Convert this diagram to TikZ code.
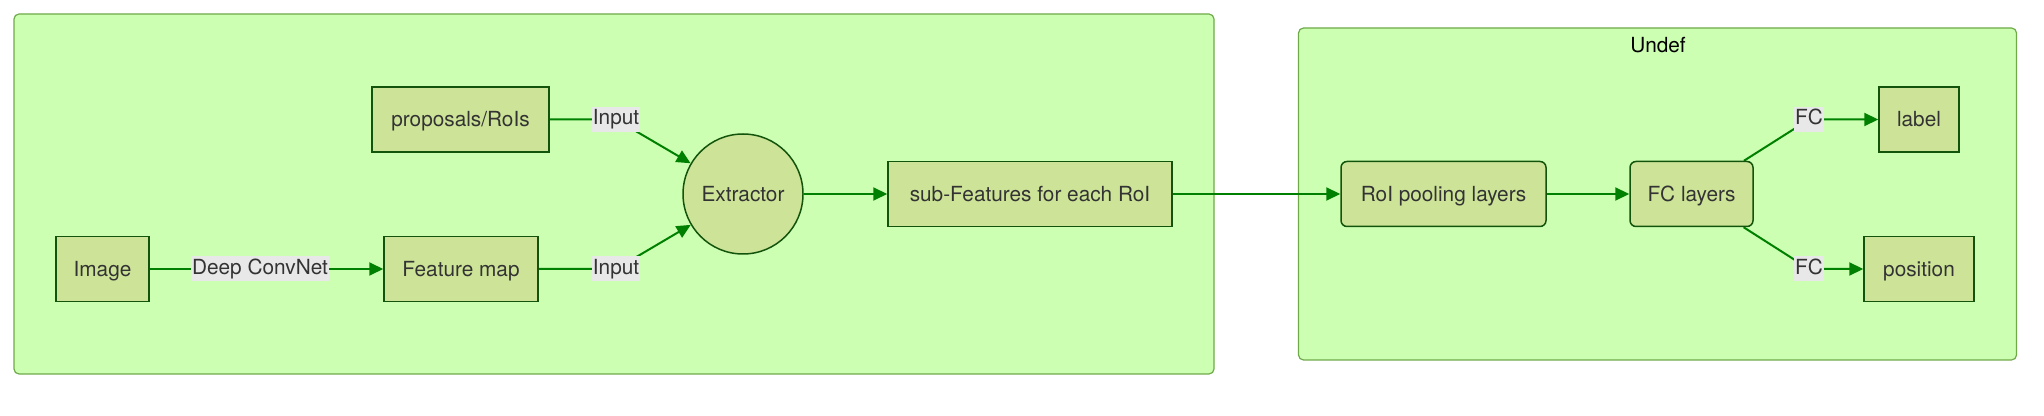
\documentclass[tikz,border=0pt]{standalone}
\usepackage{fontspec}
\setmainfont{TeX Gyre Heros}
\usetikzlibrary{arrows.meta,shapes.geometric}
\definecolor{nodefill}{HTML}{CDE498}
\definecolor{nodeline}{HTML}{13540C}
\definecolor{clfill}{HTML}{CDFFB2}
\definecolor{clline}{HTML}{6EAA49}
\definecolor{edgecol}{HTML}{008000}
\definecolor{lblbg}{HTML}{E8E8E8}
\definecolor{txt}{HTML}{333333}
\pgfdeclarelayer{bg}
\pgfdeclarelayer{edges}
\pgfsetlayers{bg,edges,main}
\begin{document}
\begin{tikzpicture}[x=0.5pt,y=-0.5pt,
  font=\fontsize{10.4}{12}\selectfont,
  every node/.style={text=txt},
  cluster/.style={draw=clline, fill=clfill, line width=0.6pt, rounded corners=2.5pt, inner sep=0pt},
  box/.style={draw=nodeline, fill=nodefill, line width=0.75pt, inner sep=0pt, minimum height=32.5pt, text height=7.5pt, text depth=0pt},
  rbox/.style={box, rounded corners=3pt},
  circ/.style={draw=nodeline, fill=nodefill, line width=0.75pt, circle, inner sep=0pt, minimum size=60pt, text height=7.5pt, text depth=0pt},
  elabel/.style={fill=lblbg, inner xsep=0.4pt, inner ysep=1pt, text height=8pt, text depth=2.5pt},
  edge/.style={draw=edgecol, line width=1pt},
  arr/.style={edge, -{Triangle[length=7pt,width=6.5pt]}},
  ttl/.style={text=black}
]
\useasboundingbox (0,0) rectangle (2044,416);
\begin{pgfonlayer}{bg}
\node[cluster, minimum width=600pt, minimum height=180pt] (cl1) at (614,194) {};
\node[cluster, minimum width=359pt, minimum height=166pt] (cl2) at (1657.5,194) {};
\end{pgfonlayer}
\node[ttl] (undef) at (1658,45) {Undef};

\node[box, minimum width=46.5pt] (img) at (102.5,269) {Image};
\node[box, minimum width=77pt] (fmap) at (461,269) {Feature map};
\node[box, minimum width=88.5pt] (props) at (460.5,119.5) {proposals/RoIs};
\node[circ] (ext) at (743,194) {Extractor};
\node[box, minimum width=142pt] (sub) at (1030,194) {sub-Features for each RoI};
\node[rbox, minimum width=102.5pt] (roi) at (1443.5,194) {RoI pooling layers};
\node[rbox, minimum width=61.5pt] (fc) at (1691.5,194) {FC layers};
\node[box, minimum width=40pt] (lab) at (1919,119.5) {label};
\node[box, minimum width=55pt] (pos) at (1919,269) {position};

\node[elabel] (dcn) at (260,269) {Deep ConvNet};
\node[elabel] (in1) at (616,119.5) {Input};
\node[elabel] (in2) at (616,269) {Input};
\node[elabel] (fc1) at (1809,119.5) {FC};
\node[elabel] (fc2) at (1809,269) {FC};

\begin{pgfonlayer}{edges}
\draw[arr] (img.east) -- (dcn.center) -- (fmap.west);
\draw[arr] (props.east) -- (in1.center) -- (ext);
\draw[arr] (fmap.east) -- (in2.center) -- (ext);
\draw[arr] (ext.east) -- (sub.west);
\draw[arr] (sub.east) -- (roi.west);
\draw[arr] (roi.east) -- (fc.west);
\draw[arr] (fc) -- (fc1.center) -- (lab.west);
\draw[arr] (fc) -- (fc2.center) -- (pos.west);
\end{pgfonlayer}
\end{tikzpicture}
\end{document}
